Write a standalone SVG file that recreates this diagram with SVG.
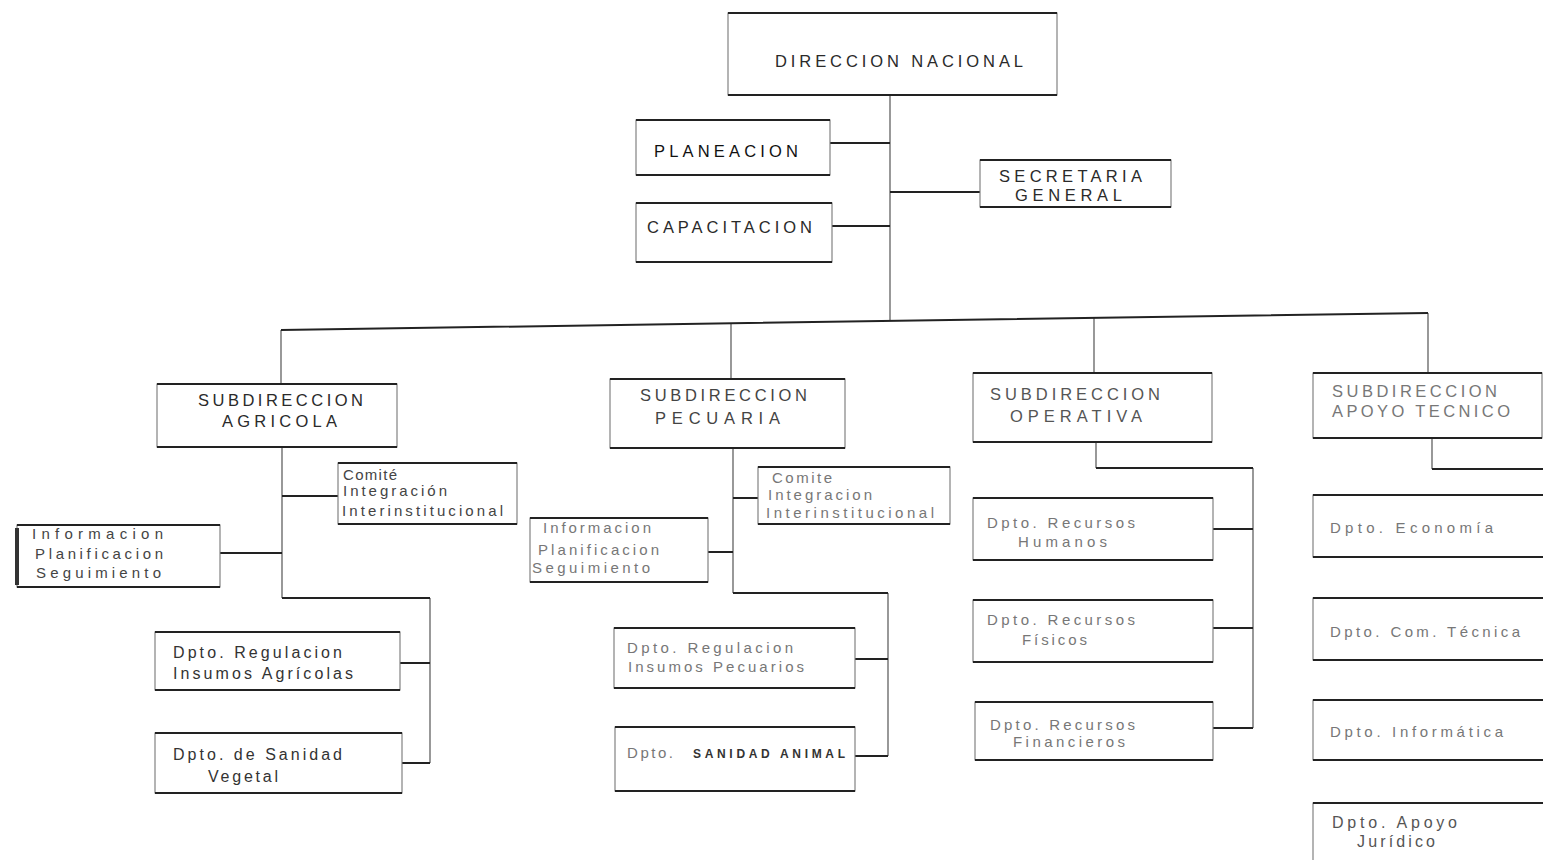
<svg xmlns="http://www.w3.org/2000/svg" width="1543" height="860" viewBox="0 0 1543 860">
<style>
.s{fill:#fff;stroke:#777;stroke-width:1.1}
.e{fill:none;stroke:#222;stroke-width:2}
.h{fill:none;stroke:#222;stroke-width:2}
.v{fill:none;stroke:#555;stroke-width:1.2}
text{font-family:"Liberation Sans",Arial,sans-serif;fill:#2a2a2a}
.u{font-size:16.5px}
.t{font-size:16px;fill:#333}
.m{font-size:15px;fill:#444}
.l{font-size:15px;fill:#777}
.b{font-size:12px;font-weight:bold;fill:#333}
</style>
<rect width="1543" height="860" fill="#fff"/>
<g id="connectors">
<path class="v" d="M890 95V321M281 330V384M731 323V379M1094 318V373M1428 313V373"/>
<path class="h" d="M830 143H890M832 226H890M890 192H980M281 330L1428 313"/>
<path class="v" d="M282 447V598M430 598V763M733 448V593M888 593V756M1096 442V468M1253 468V728M1432 438V469"/>
<path class="h" d="M282 598H430M282 496H338M220 553H282M400 663H430M402 763H430"/>
<path class="h" d="M733 593H888M733 498H758M708 552H733M855 659H888M855 756H888"/>
<path class="h" d="M1096 468H1253M1213 529H1253M1213 628H1253M1213 728H1253"/>
<path class="h" d="M1432 469H1543"/>
</g>
<g id="n-direccion"><rect class="s" x="728" y="13" width="329" height="82"/><path class="e" d="M728 13H1057M728 95H1057"/><text class="u" x="775" y="67" textLength="248" lengthAdjust="spacing">DIRECCION NACIONAL</text></g>
<g id="n-planeacion"><rect class="s" x="636" y="120" width="194" height="55"/><path class="e" d="M636 120H830M636 175H830"/><text class="u" x="654" y="157" textLength="144" lengthAdjust="spacing" style="fill:#111">PLANEACION</text></g>
<g id="n-capacitacion"><rect class="s" x="636" y="203" width="196" height="59"/><path class="e" d="M636 203H832M636 262H832"/><text class="u" x="647" y="233" textLength="165" lengthAdjust="spacing">CAPACITACION</text></g>
<g id="n-secretaria"><rect class="s" x="980" y="160" width="191" height="47"/><path class="e" d="M980 160H1171M980 207H1171"/><text class="u" x="999" y="182" textLength="143" lengthAdjust="spacing">SECRETARIA</text><text class="u" x="1015" y="201" textLength="107" lengthAdjust="spacing">GENERAL</text></g>

<g id="n-sub-agricola"><rect class="s" x="157" y="384" width="240" height="63"/><path class="e" d="M157 384H397M157 447H397"/><text class="u" x="198" y="406" textLength="165" lengthAdjust="spacing">SUBDIRECCION</text><text class="u" x="222" y="427" textLength="115" lengthAdjust="spacing">AGRICOLA</text></g>
<g id="n-comite-agricola"><rect class="s" x="338" y="463" width="179" height="61"/><path class="e" d="M338 463H517M338 524H517"/><text class="m" x="343" y="480" textLength="54" lengthAdjust="spacing">Comité</text><text class="m" x="343" y="496" textLength="104" lengthAdjust="spacing">Integración</text><text class="m" x="342" y="516" textLength="161" lengthAdjust="spacing">Interinstitucional</text></g>
<g id="n-info-agricola"><rect class="s" x="17" y="525" width="203" height="62"/><path class="e" d="M17 525H220M17 587H220"/><path d="M17 528V585" stroke="#333" stroke-width="4"/><text class="m" x="32" y="539" textLength="131" lengthAdjust="spacing">Informacion</text><text class="m" x="35" y="559" textLength="128" lengthAdjust="spacing">Planificacion</text><text class="m" x="36" y="578" textLength="125" lengthAdjust="spacing">Seguimiento</text></g>
<g id="n-reg-agricola"><rect class="s" x="155" y="632" width="245" height="58"/><path class="e" d="M155 632H400M155 690H400"/><text class="t" x="173" y="658" textLength="169" lengthAdjust="spacing">Dpto. Regulacion</text><text class="t" x="173" y="679" textLength="180" lengthAdjust="spacing">Insumos Agrícolas</text></g>
<g id="n-sanidad-vegetal"><rect class="s" x="155" y="733" width="247" height="60"/><path class="e" d="M155 733H402M155 793H402"/><text class="t" x="173" y="760" textLength="169" lengthAdjust="spacing">Dpto. de Sanidad</text><text class="t" x="208" y="782" textLength="70" lengthAdjust="spacing">Vegetal</text></g>

<g id="n-sub-pecuaria"><rect class="s" x="610" y="379" width="235" height="69"/><path class="e" d="M610 379H845M610 448H845"/><text class="u" x="640" y="401" textLength="167" lengthAdjust="spacing" style="fill:#444">SUBDIRECCION</text><text class="u" x="655" y="424" textLength="125" lengthAdjust="spacing" style="fill:#444">PECUARIA</text></g>
<g id="n-comite-pecuaria"><rect class="s" x="758" y="467" width="192" height="57"/><path class="e" d="M758 467H950M758 524H950"/><text class="l" x="772" y="483" textLength="60" lengthAdjust="spacing">Comite</text><text class="l" x="768" y="500" textLength="104" lengthAdjust="spacing">Integracion</text><text class="l" x="766" y="518" textLength="168" lengthAdjust="spacing">Interinstitucional</text></g>
<g id="n-info-pecuaria"><rect class="s" x="530" y="518" width="178" height="64"/><path class="e" d="M530 518H708M530 582H708"/><text class="l" x="543" y="533" textLength="108" lengthAdjust="spacing">Informacion</text><text class="l" x="538" y="555" textLength="121" lengthAdjust="spacing">Planificacion</text><text class="l" x="532" y="573" textLength="118" lengthAdjust="spacing">Seguimiento</text></g>
<g id="n-reg-pecuaria"><rect class="s" x="614" y="628" width="241" height="60"/><path class="e" d="M614 628H855M614 688H855"/><text class="l" x="627" y="653" textLength="166" lengthAdjust="spacing">Dpto. Regulacion</text><text class="l" x="628" y="672" textLength="176" lengthAdjust="spacing">Insumos Pecuarios</text></g>
<g id="n-sanidad-animal"><rect class="s" x="615" y="727" width="240" height="64"/><path class="e" d="M615 727H855M615 791H855"/><text class="l" x="627" y="758" textLength="46" lengthAdjust="spacing">Dpto.</text><text class="b" x="693" y="758" textLength="152" lengthAdjust="spacing">SANIDAD ANIMAL</text></g>

<g id="n-sub-operativa"><rect class="s" x="973" y="373" width="239" height="69"/><path class="e" d="M973 373H1212M973 442H1212"/><text class="u" x="990" y="400" textLength="170" lengthAdjust="spacing" style="fill:#555">SUBDIRECCION</text><text class="u" x="1010" y="422" textLength="132" lengthAdjust="spacing" style="fill:#555">OPERATIVA</text></g>
<g id="n-rec-humanos"><rect class="s" x="973" y="498" width="240" height="62"/><path class="e" d="M973 498H1213M973 560H1213"/><text class="l" x="987" y="528" textLength="148" lengthAdjust="spacing">Dpto. Recursos</text><text class="l" x="1018" y="547" textLength="89" lengthAdjust="spacing">Humanos</text></g>
<g id="n-rec-fisicos"><rect class="s" x="973" y="600" width="240" height="62"/><path class="e" d="M973 600H1213M973 662H1213"/><text class="l" x="987" y="625" textLength="148" lengthAdjust="spacing">Dpto. Recursos</text><text class="l" x="1022" y="645" textLength="65" lengthAdjust="spacing">Físicos</text></g>
<g id="n-rec-financieros"><rect class="s" x="975" y="702" width="238" height="58"/><path class="e" d="M975 702H1213M975 760H1213"/><text class="l" x="990" y="730" textLength="145" lengthAdjust="spacing">Dpto. Recursos</text><text class="l" x="1013" y="747" textLength="112" lengthAdjust="spacing">Financieros</text></g>

<g id="n-sub-apoyo"><rect class="s" x="1313" y="373" width="229" height="65"/><path class="e" d="M1313 373H1542M1313 438H1542"/><text class="u" x="1332" y="397" textLength="165" lengthAdjust="spacing" style="fill:#777">SUBDIRECCION</text><text class="u" x="1332" y="417" textLength="178" lengthAdjust="spacing" style="fill:#777">APOYO TECNICO</text></g>
<g id="n-economia"><rect class="s" x="1313" y="495" width="240" height="62"/><path class="e" d="M1313 495H1543M1313 557H1543"/><text class="l" x="1330" y="533" textLength="163" lengthAdjust="spacing">Dpto. Economía</text></g>
<g id="n-com-tecnica"><rect class="s" x="1313" y="598" width="240" height="62"/><path class="e" d="M1313 598H1543M1313 660H1543"/><text class="l" x="1330" y="637" textLength="190" lengthAdjust="spacing">Dpto. Com. Técnica</text></g>
<g id="n-informatica"><rect class="s" x="1313" y="700" width="240" height="60"/><path class="e" d="M1313 700H1543M1313 760H1543"/><text class="l" x="1330" y="737" textLength="173" lengthAdjust="spacing">Dpto. Informática</text></g>
<g id="n-juridico"><rect class="s" x="1313" y="803" width="240" height="70"/><path class="e" d="M1313 803H1543"/><text class="t" x="1332" y="828" textLength="125" lengthAdjust="spacing" style="fill:#555">Dpto. Apoyo</text><text class="t" x="1357" y="847" textLength="78" lengthAdjust="spacing" style="fill:#555">Jurídico</text></g>
</svg>
